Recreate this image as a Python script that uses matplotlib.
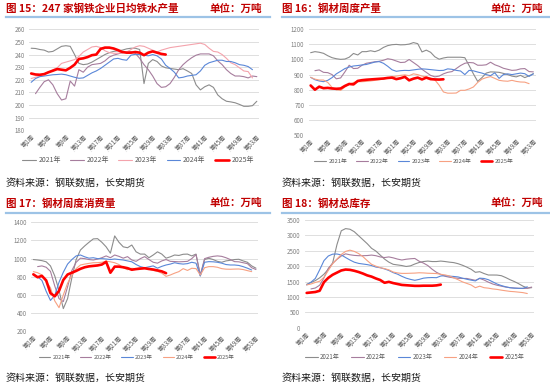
import numpy as np
import matplotlib
matplotlib.use("Agg")
import matplotlib.pyplot as plt

plt.rcParams['font.family'] = ['Noto Sans CJK SC', 'DejaVu Sans']

nan = np.nan
W, H = 550, 387

years = ["2021年", "2022年", "2023年", "2024年", "2025年"]
tick_weeks = [1, 5, 9, 13, 17, 21, 25, 29, 33, 37, 41, 45, 49, 53]
tick_labels = ["第1周", "第5周", "第9周", "第13周", "第17周", "第21周", "第25周",
               "第29周", "第33周", "第37周", "第41周", "第45周", "第49周", "第53周"]

# ---- Fig 15: daily hot metal output (万吨) ----
p1_2021 = [245, 244.8, 244, 243.5, 242, 242.5, 244.5, 246.5, 247, 246.5, 240, 233, 232, 232.5, 234, 236, 238, 240,
           241.5, 242.5, 243, 243.5, 244.5, 245, 245, 244, 217, 233, 236, 234.5, 231, 229.5, 229, 228.5, 228, 228.8,
           227, 225, 216, 212, 214.5, 216, 214, 208, 205, 203, 202.5, 201.8, 200.5, 199, 199, 199.5, 203]
p1_2022 = [nan, 209, 214, 218.5, 220, 216, 209, 204, 205, 219, 215, 228, 226, 230, 232, 232.5, 233, 235, 238, 239.5,
           240.5, 241.5, 242, 242.3, 241, 237, 232, 228, 223, 217, 214, 214.5, 217, 222, 228, 232, 235, 237.5, 239.5,
           240.5, 240.5, 240.5, 239, 235, 232, 228, 225, 223, 223, 222.5, 221.5, 223, 222.5]
p1_2023 = [221, 222, 223, 224.5, 226, 228, 229.5, 233, 234, 235, 236, 238.5, 242, 244, 246, 246.5, 245.5, 243, 241.5,
           241, 241, 241.5, 242, 244, 246, 247, 246.5, 245, 243.5, 242, 243.5, 244.5, 245.5, 246, 246.5, 247, 247.5,
           248, 248.5, 249, 248, 245, 242.5, 242, 240, 237, 233.5, 232, 229.5, 227, 226.5, 221.5]
p1_2024 = [218, 221, 222.5, 223, 223.5, 224, 224.2, 224.5, 224, 223, 222, 221.2, 221.5, 223.5, 225.5, 227, 229, 231.5,
           234, 236.5, 237, 236, 235.5, 239.5, 240.2, 240, 239.5, 239, 240, 239, 236.5, 231.5, 229, 226, 221.5, 222,
           223, 223.5, 224, 227, 231.5, 233.5, 234.5, 235.5, 235.5, 234.5, 234.5, 233.5, 232, 231.5, 230.5, 228]
p1_2025 = [225, 224.2, 224, 224.5, 226, 227.2, 228.5, 228, 227.5, 229.5, 232, 236.5, 237, 238, 239.5, 240, 244.5, 245.5,
           245.5, 244.8, 243.5, 242, 241.5, 241.5, 242, 241.5, 239.5, 241.5, 242.5, 241.5, 240.5, 240]

# ---- Fig 16: weekly steel output ----
p2_2021 = [1045, 1052, 1048, 1041, 1025, 1012, 1005, 1001, 1003, 1015, 1040, 1030, 1052, 1052, 1058, 1052, 1062, 1080,
           1092, 1098, 1100, 1097, 1098, 1102, 1112, 1105, 1050, 1062, 1048, 1018, 1002, 1010, 1015, 1015, 1015, 1015,
           1012, 960, 905, 855, 880, 910, 918, 917, 915, 908, 900, 890, 885, 895, 880, 892, 906]
p2_2022 = [nan, 926, 931, 915, 913, 900, 872, 878, 918, 962, 940, 942, 962, 975, 980, 985, 988, 995, 1005, 1000, 990,
           980, 982, 1000, 980, 960, 935, 915, 895, 885, 890, 905, 915, 920, 940, 960, 975, 980, 978, 962, 962, 965,
           982, 965, 955, 942, 935, 928, 930, 938, 940, 920, 918]
p2_2023 = [882, 866, 858, 853, 862, 880, 905, 922, 940, 950, 957, 960, 964, 967, 975, 983, 986, 975, 955, 932, 922,
           926, 928, 927, 931, 935, 938, 936, 933, 930, 927, 928, 938, 935, 928, 924, 900, 928, 925, 917, 910, 900,
           893, 912, 875, 900, 905, 900, 905, 910, 906, 888, 905]
p2_2024 = [882, 870, 864, 864, 848, 815, 800, 795, 818, 835, 848, 853, 853, 855, 858, 862, 866, 870, 878, 885, 890,
           895, 898, 893, 905, 900, 890, 884, 878, 865, 830, 785, 777, 777, 778, 796, 796, 805, 818, 848, 870, 880,
           887, 875, 862, 858, 856, 862, 855, 851, 850, 840]
p2_2025 = [828, 800, 820, 810, 812, 808, 806, 808, 825, 838, 835, 858, 863, 866, 868, 870, 872, 874, 878, 880, 870,
           876, 885, 862, 873, 880, 868, 880, 870, 868, 867, 869]

# ---- Fig 17: weekly steel consumption ----
p3_2021 = [990, 985, 978, 965, 920, 810, 650, 450, 560, 790, 990, 1095, 1140, 1180, 1217, 1220, 1180, 1130, 1060,
           1250, 1180, 1130, 1120, 1150, 1075, 1050, 1050, 1010, 1040, 1075, 1050, 1005, 1020, 1040, 1035, 1048, 1050,
           1030, 1050, 810, 990, 1004, 990, 970, 960, 975, 982, 990, 993, 975, 960, 920, 895]
p3_2022 = [nan, 912, 920, 905, 860, 700, 560, 527, 690, 870, 960, 1005, 1000, 990, 985, 995, 1010, 1030, 1010, 1040,
           1025, 1005, 1022, 985, 970, 1000, 1022, 990, 960, 950, 975, 990, 970, 968, 965, 967, 970, 1000, 1045, 820,
           1000, 1015, 1025, 1030, 1025, 1010, 990, 967, 965, 955, 945, 900, 880]
p3_2023 = [825, 800, 760, 640, 540, 595, 740, 850, 940, 990, 1030, 1040, 1020, 1005, 1010, 1000, 1000, 996, 990, 996,
           990, 985, 975, 965, 935, 912, 900, 910, 920, 895, 915, 930, 940, 955, 945, 940, 945, 960, 950, 810, 960,
           967, 965, 960, 950, 935, 930, 930, 925, 912, 895, 875]
p3_2024 = [857, 845, 820, 745, 680, 535, 460, 600, 730, 815, 890, 930, 940, 948, 955, 956, 960, 972, 965, 955, 935,
           900, 878, 894, 888, 900, 895, 885, 870, 860, 840, 805, 820, 840, 857, 890, 870, 894, 890, 820, 900, 912,
           912, 905, 890, 884, 883, 885, 886, 880, 868, 857]
p3_2025 = [827, 795, 810, 760, 620, 585, 645, 765, 825, 845, 865, 888, 905, 915, 920, 925, 935, 965, 845, 912, 912,
           905, 895, 878, 885, 890, 894, 886, 880, 870, 860, 840]

# ---- Fig 18: total steel inventory ----
p4_2021 = [1409, 1470, 1530, 1620, 1740, 1900, 2100, 2700, 3150, 3220, 3200, 3120, 2990, 2860, 2730, 2580, 2490, 2360,
           2230, 2130, 2060, 2040, 2020, 1990, 2010, 2070, 2120, 2150, 2165, 2150, 2150, 2165, 2150, 2130, 2115, 2080,
           2030, 1970, 1900, 1800, 1820, 1760, 1712, 1712, 1710, 1690, 1630, 1560, 1500, 1430, 1350, 1290, 1300]
p4_2022 = [nan, 1260, 1290, 1380, 1620, 1930, 2090, 2220, 2330, 2400, 2370, 2350, 2340, 2340, 2345, 2360, 2340, 2300,
           2280, 2300, 2270, 2230, 2200, 2225, 2240, 2250, 2160, 2100, 2020, 1900, 1800, 1730, 1670, 1640, 1620, 1605,
           1600, 1600, 1570, 1540, 1600, 1550, 1480, 1420, 1380, 1350, 1320, 1300, 1290, 1280, 1275, 1280, 1320]
p4_2023 = [1390, 1480, 1600, 1880, 2180, 2330, 2390, 2395, 2365, 2280, 2200, 2130, 2090, 2070, 2050, 2020, 1970, 1950,
           1910, 1860, 1790, 1740, 1670, 1610, 1570, 1540, 1570, 1610, 1625, 1630, 1625, 1680, 1690, 1675, 1665, 1650,
           1610, 1575, 1545, 1520, 1610, 1600, 1560, 1490, 1420, 1370, 1330, 1300, 1285, 1280, 1280, 1330]
p4_2024 = [1390, 1420, 1470, 1510, 1640, 1860, 2080, 2230, 2380, 2480, 2520, 2480, 2410, 2310, 2180, 2060, 2000, 1950,
           1920, 1880, 1810, 1780, 1765, 1765, 1770, 1775, 1785, 1780, 1770, 1765, 1760, 1735, 1715, 1680, 1620, 1560,
           1490, 1440, 1390, 1300, 1350, 1300, 1285, 1260, 1245, 1220, 1200, 1180, 1170, 1155, 1140, 1110]
p4_2025 = [1130, 1145, 1160, 1200, 1480, 1620, 1720, 1790, 1860, 1890, 1880, 1850, 1810, 1760, 1700, 1660, 1600, 1550,
           1460, 1490, 1450, 1420, 1390, 1380, 1370, 1360, 1360, 1365, 1365, 1365, 1375, 1400]

GRAY = '#8c8c8c'
MAUVE = '#a67d9d'
PINK = '#f4a3ac'
BLUE = '#5a87d8'
SALMON = '#f7a182'
RED = '#ff0000'
TITLE_RED = '#c00000'
LINE_BLUE = '#9dc3e6'
TXT = '#595959'

fig = plt.figure(figsize=(W / 100, H / 100), dpi=100)


def px_rect(l, t, r, b):
    return [l / W, 1 - b / H, (r - l) / W, (b - t) / H]


def panel(rect, series, colors, ylim, yticks, legend_c, leg_fs, colspace):
    ax = fig.add_axes(px_rect(*rect))
    lines = []
    for i, (vals, c) in enumerate(zip(series, colors)):
        y = np.array(vals, dtype=float)
        x = np.arange(1, len(y) + 1)
        lw = 1.9 if i == 4 else 0.8
        ln, = ax.plot(x, y, color=c, lw=lw, solid_joinstyle='round', solid_capstyle='round', zorder=2 + i)
        lines.append(ln)
    ax.set_xlim(0.5, 53.5)
    ax.set_ylim(*ylim)
    ax.set_yticks(yticks)
    ax.set_yticklabels([str(v) for v in yticks], fontsize=4.4, color='#7f7f7f')
    ax.set_xticks(tick_weeks)
    ax.set_xticklabels(tick_labels, rotation=45, ha='right', rotation_mode='anchor',
                       fontsize=4.5, color=TXT)
    ax.tick_params(axis='both', length=0)
    ax.tick_params(axis='x', pad=2)
    ax.tick_params(axis='y', pad=3)
    for s in ax.spines.values():
        s.set_visible(False)
    ax.grid(axis='y', color='#d9d9d9', lw=0.6)
    ax.set_axisbelow(True)
    ax.patch.set_alpha(0)
    fig.legend(lines, years, loc='center', bbox_to_anchor=(legend_c[0] / W, 1 - legend_c[1] / H),
               bbox_transform=fig.transFigure, ncol=5, frameon=False, fontsize=leg_fs,
               handlelength=2.0, handletextpad=0.4, columnspacing=colspace, labelcolor=TXT,
               borderpad=0, borderaxespad=0)
    return ax


def header(title, tx, ty, ux, lx0, lx1, ly, sx, sy):
    fig.text(tx / W, 1 - ty / H, title, fontsize=7.6, fontweight='bold', color=TITLE_RED,
             ha='left', va='center')
    fig.text(ux / W, 1 - ty / H, "单位：万吨", fontsize=7.6, fontweight='bold', color=TITLE_RED,
             ha='right', va='center')
    fig.add_artist(plt.Line2D([lx0 / W, lx1 / W], [1 - ly / H, 1 - ly / H], color=LINE_BLUE, lw=1.6,
                              transform=fig.transFigure))
    fig.text(sx / W, 1 - sy / H, "资料来源：钢联数据，长安期货", fontsize=7.2, color='#1a1a1a',
             ha='left', va='center')


c1 = [GRAY, MAUVE, PINK, BLUE, RED]
c2 = [GRAY, MAUVE, BLUE, SALMON, RED]

panel((29, 29.3, 259, 130.3), [p1_2021, p1_2022, p1_2023, p1_2024, p1_2025], c1,
      (180, 260), list(range(180, 261, 10)), (138, 160), 5.0, 1.3)
panel((308.5, 29.3, 535.5, 135), [p2_2021, p2_2022, p2_2023, p2_2024, p2_2025], c2,
      (500, 1200), list(range(500, 1201, 100)), (414, 161.5), 4.2, 1.5)
panel((31.2, 222.3, 258.1, 331.3), [p3_2021, p3_2022, p3_2023, p3_2024, p3_2025], c2,
      (200, 1400), list(range(200, 1401, 200)), (137, 357.3), 4.0, 1.8)
panel((304.5, 220, 533.8, 327.7), [p4_2021, p4_2022, p4_2023, p4_2024, p4_2025], c2,
      (0, 3500), list(range(0, 3501, 500)), (415, 357.3), 4.4, 1.9)

header("图 15：247 家钢铁企业日均铁水产量", 6, 9, 262, 6, 270, 16.5, 6, 182.7)
header("图 16：钢材周度产量", 281.5, 9, 543, 282, 550, 17, 281.5, 182.7)
header("图 17：钢材周度消费量", 6, 203.3, 262, 6, 270, 213.3, 6, 377.7)
header("图 18：钢材总库存", 281.5, 203.3, 543, 282, 550, 213.3, 281.5, 377.7)

fig.savefig("out.png", dpi=100)
